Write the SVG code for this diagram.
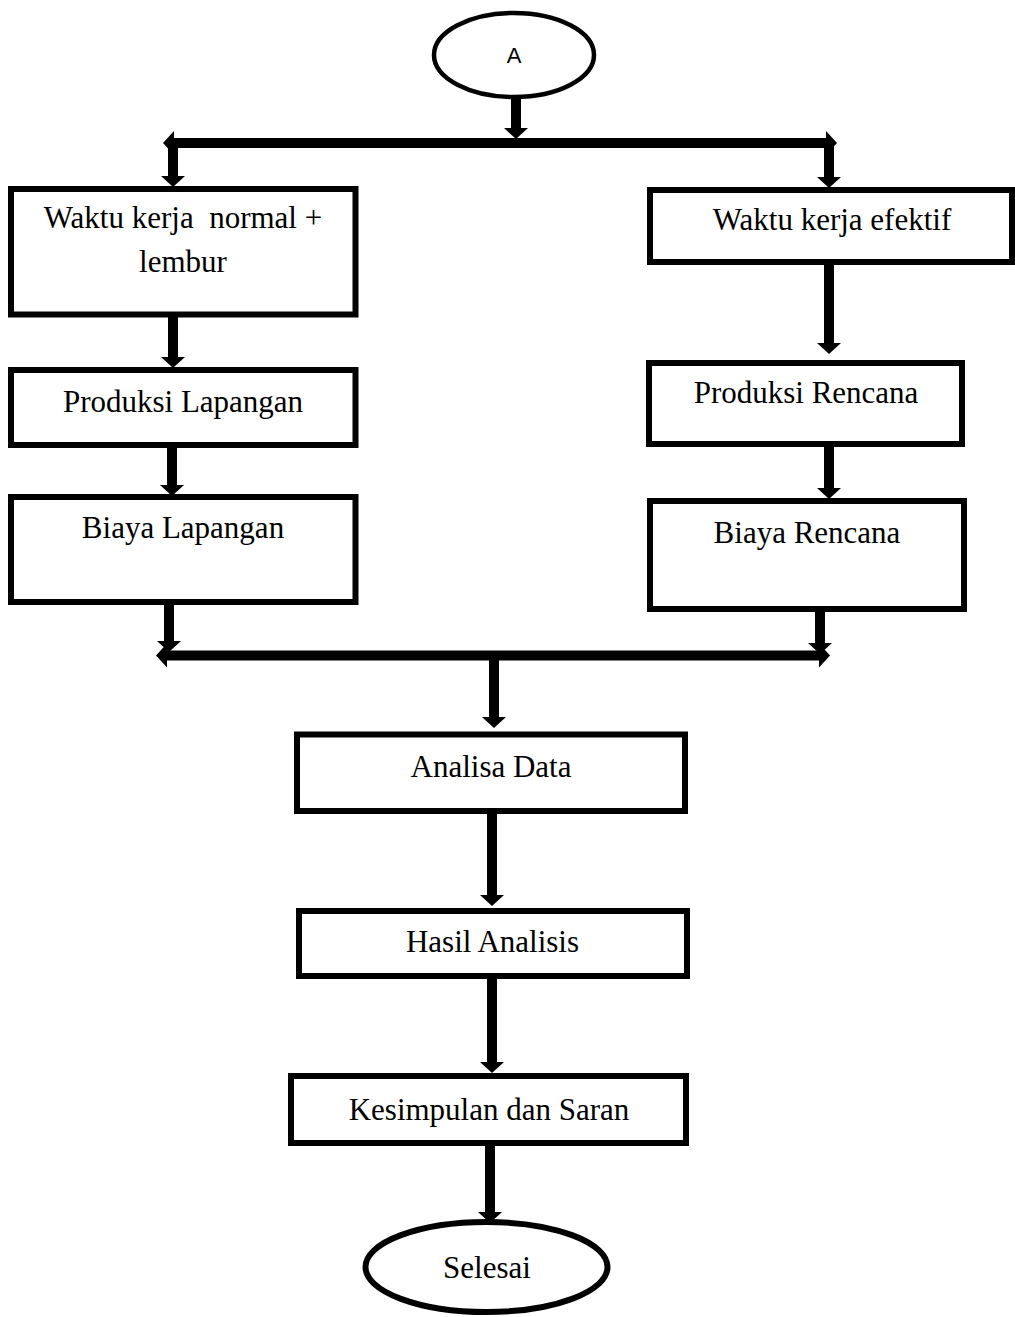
<svg xmlns="http://www.w3.org/2000/svg" width="1015" height="1317" viewBox="0 0 1015 1317">
<style>
.box{fill:#fff;stroke:#000;stroke-width:6}
.ell{fill:#fff;stroke:#000}
.t{font-family:"Liberation Serif","Times New Roman",serif;font-size:31px;fill:#000;text-anchor:middle;white-space:pre}
.s{font-family:"Liberation Sans",Arial,sans-serif;font-size:22px;fill:#000;text-anchor:middle}
.c{stroke:#000;stroke-width:10;fill:none;marker-end:url(#ah)}
.b{stroke:#000;stroke-width:10;fill:none;marker-end:url(#ah);marker-start:url(#ahs)}
</style>
<defs>
<marker id="ah" markerUnits="userSpaceOnUse" markerWidth="12" markerHeight="24" refX="0" refY="12" orient="auto" overflow="visible">
<path d="M0,0 L11,12 L0,24 z" fill="#000"/>
</marker>
<marker id="ahs" markerUnits="userSpaceOnUse" markerWidth="12" markerHeight="24" refX="0" refY="12" orient="auto-start-reverse" overflow="visible">
<path d="M0,0 L11,12 L0,24 z" fill="#000"/>
</marker>
</defs>
<g id="connectors">
<line class="c" x1="516" y1="97" x2="516" y2="128"/>
<line class="b" x1="174" y1="143" x2="826" y2="143"/>
<line class="c" x1="173" y1="143" x2="173" y2="176"/>
<line class="c" x1="829" y1="143" x2="829" y2="177"/>
<line class="c" x1="173" y1="314" x2="173" y2="357"/>
<line class="c" x1="172" y1="445" x2="172" y2="485"/>
<line class="c" x1="829" y1="262" x2="829" y2="343"/>
<line class="c" x1="829" y1="444" x2="829" y2="488"/>
<line class="c" x1="169" y1="602" x2="169" y2="641"/>
<line class="c" x1="820" y1="605" x2="820" y2="643"/>
<line class="b" x1="167" y1="655.5" x2="819" y2="655.5"/>
<line class="c" x1="494" y1="655" x2="494" y2="717"/>
<line class="c" x1="492" y1="811" x2="492" y2="895"/>
<line class="c" x1="492" y1="976" x2="492" y2="1062"/>
<line class="c" x1="490" y1="1143" x2="490" y2="1212"/>
</g>
<g id="start">
<ellipse class="ell" cx="514" cy="55" rx="80" ry="42" stroke-width="4.5"/>
<text class="s" x="514" y="63">A</text>
</g>
<g id="waktu-normal">
<rect class="box" x="11" y="189" width="344.5" height="125.5"/>
<text class="t" x="183" y="228" xml:space="preserve">Waktu kerja  normal +</text>
<text class="t" x="183" y="272">lembur</text>
</g>
<g id="produksi-lapangan">
<rect class="box" x="11" y="370" width="344.5" height="75"/>
<text class="t" x="183" y="412">Produksi Lapangan</text>
</g>
<g id="biaya-lapangan">
<rect class="box" x="11" y="497" width="344.5" height="105"/>
<text class="t" x="183" y="538">Biaya Lapangan</text>
</g>
<g id="waktu-efektif">
<rect class="box" x="650" y="190" width="362" height="72"/>
<text class="t" x="832" y="230">Waktu kerja efektif</text>
</g>
<g id="produksi-rencana">
<rect class="box" x="649" y="363" width="313" height="81"/>
<text class="t" x="806" y="403">Produksi Rencana</text>
</g>
<g id="biaya-rencana">
<rect class="box" x="650" y="501" width="314" height="108"/>
<text class="t" x="807" y="543">Biaya Rencana</text>
</g>
<g id="analisa-data">
<rect class="box" x="297" y="734.5" width="388" height="76.5"/>
<text class="t" x="491" y="777">Analisa Data</text>
</g>
<g id="hasil-analisis">
<rect class="box" x="299" y="911" width="388" height="65"/>
<text class="t" x="492.5" y="952">Hasil Analisis</text>
</g>
<g id="kesimpulan">
<rect class="box" x="291" y="1076" width="395" height="67"/>
<text class="t" x="489" y="1120">Kesimpulan dan Saran</text>
</g>
<g id="selesai">
<ellipse class="ell" cx="486.5" cy="1267" rx="121" ry="45" stroke-width="6"/>
<text class="t" x="487" y="1278">Selesai</text>
</g>
</svg>
